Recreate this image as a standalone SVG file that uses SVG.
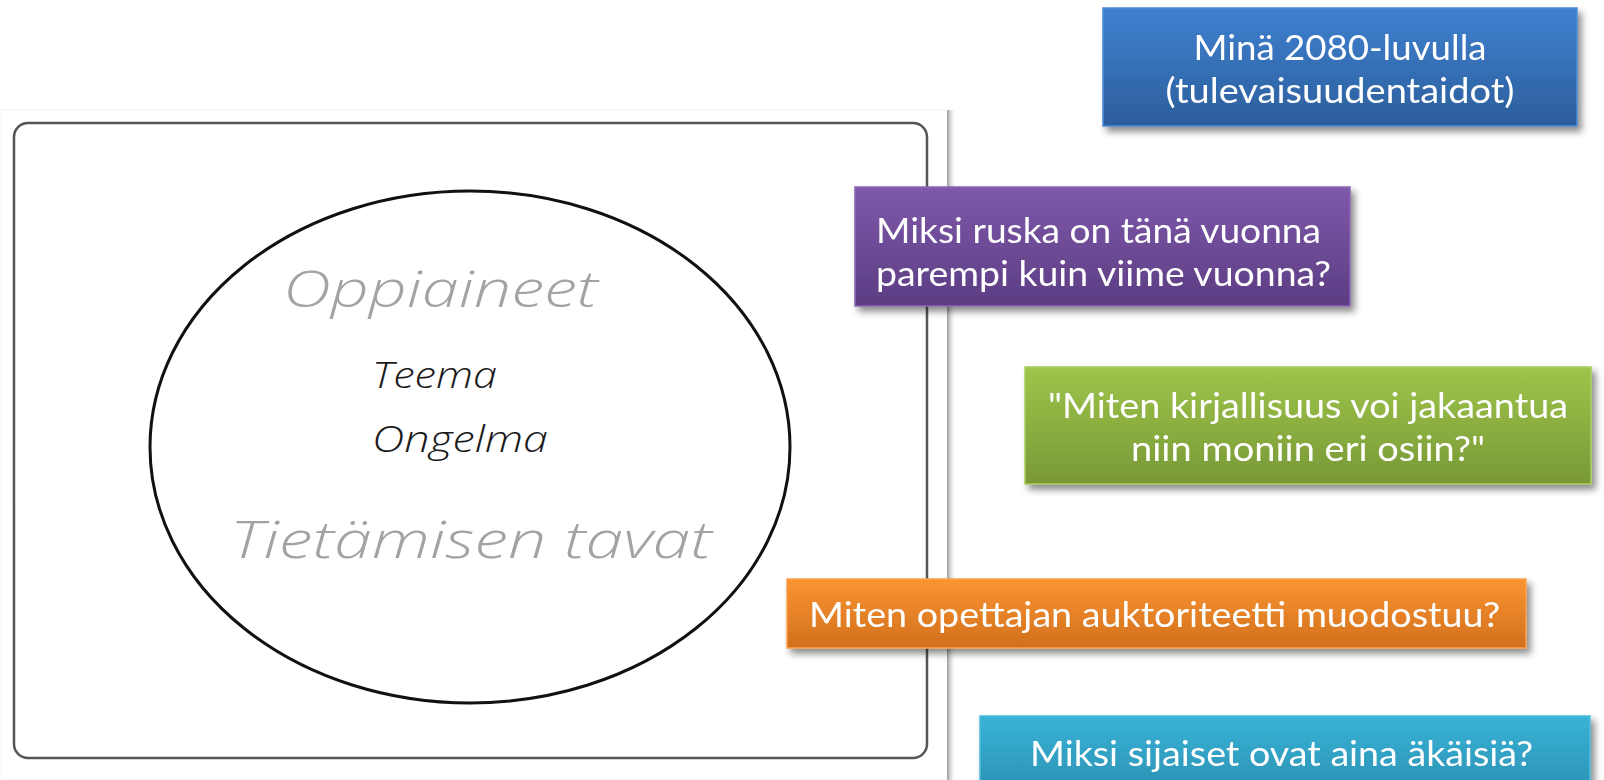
<svg xmlns="http://www.w3.org/2000/svg" width="1604" height="780" viewBox="0 0 1604 780">
<defs>
<style>
.box{stroke-width:1.5}
.t{font-family:Lato,"Open Sans","Liberation Sans",sans-serif;font-size:35px;fill:#ffffff}
.hw{font-family:"Open Sans","DejaVu Sans",sans-serif;font-style:italic;font-weight:300}
.gray{fill:#a3a3a3}
.dark{fill:#1a1a1a}
</style>
<linearGradient id="gBlue" x1="0" y1="0" x2="0" y2="1"><stop offset="0" stop-color="#3f81d0"/><stop offset="1" stop-color="#2c5e9b"/></linearGradient>
<linearGradient id="gPurple" x1="0" y1="0" x2="0" y2="1"><stop offset="0" stop-color="#7f59aa"/><stop offset="1" stop-color="#5c3d83"/></linearGradient>
<linearGradient id="gGreen" x1="0" y1="0" x2="0" y2="1"><stop offset="0" stop-color="#9fc54b"/><stop offset="1" stop-color="#789836"/></linearGradient>
<linearGradient id="gOrange" x1="0" y1="0" x2="0" y2="1"><stop offset="0" stop-color="#fa9532"/><stop offset="1" stop-color="#d26f1c"/></linearGradient>
<linearGradient id="gTeal" x1="0" y1="0" x2="0" y2="1"><stop offset="0" stop-color="#39b3d7"/><stop offset="1" stop-color="#2a8fb0"/></linearGradient>
<linearGradient id="gEdge" x1="0" y1="0" x2="1" y2="0"><stop offset="0" stop-color="#9a9a9a"/><stop offset="1" stop-color="#ffffff" stop-opacity="0"/></linearGradient>
<filter id="sh" x="-5%" y="-10%" width="115%" height="130%"><feDropShadow dx="4" dy="5" stdDeviation="3.5" flood-color="#000" flood-opacity="0.45"/></filter>
</defs>
<rect width="1604" height="780" fill="#ffffff"/>
<g id="picture">
<rect x="0" y="110" width="948" height="670" fill="#ffffff" stroke="#f2f2f2" stroke-width="1"/>
<rect x="947" y="110" width="9" height="670" fill="url(#gEdge)"/>
<rect x="14" y="123" width="913" height="635" rx="14" ry="14" fill="#ffffff" stroke="#555555" stroke-width="2.5"/>
<ellipse cx="470" cy="447" rx="320" ry="256" fill="none" stroke="#111111" stroke-width="3"/>
<text class="hw gray" x="283" y="307" font-size="50" textLength="315" lengthAdjust="spacingAndGlyphs">Oppiaineet</text>
<text class="hw dark" x="372" y="388" font-size="36" textLength="125" lengthAdjust="spacingAndGlyphs">Teema</text>
<text class="hw dark" x="372" y="452" font-size="36" textLength="176" lengthAdjust="spacingAndGlyphs">Ongelma</text>
<text class="hw gray" x="230" y="558" font-size="52" textLength="482" lengthAdjust="spacingAndGlyphs">Tietämisen tavat</text>
</g>
<g id="connectors"></g>
<g id="n-blue" filter="url(#sh)">
<rect class="box" x="1103" y="8" width="474" height="118" fill="url(#gBlue)" stroke="#4b8bd6"/>
<text class="t" x="1340" y="60" text-anchor="middle" textLength="293" lengthAdjust="spacingAndGlyphs">Minä 2080-luvulla</text>
<text class="t" x="1340" y="103" text-anchor="middle" textLength="349" lengthAdjust="spacingAndGlyphs">(tulevaisuudentaidot)</text>
</g>
<g id="n-purple" filter="url(#sh)">
<rect class="box" x="855" y="187" width="495" height="119" fill="url(#gPurple)" stroke="#8a66b4"/>
<text class="t" x="876" y="243" textLength="445" lengthAdjust="spacingAndGlyphs">Miksi ruska on tänä vuonna</text>
<text class="t" x="876" y="286" textLength="455" lengthAdjust="spacingAndGlyphs">parempi kuin viime vuonna?</text>
</g>
<g id="n-green" filter="url(#sh)">
<rect class="box" x="1025" y="367" width="566" height="117" fill="url(#gGreen)" stroke="#a9cc5c"/>
<text class="t" x="1308" y="418" text-anchor="middle" textLength="520" lengthAdjust="spacingAndGlyphs">"Miten kirjallisuus voi jakaantua</text>
<text class="t" x="1308" y="461" text-anchor="middle" textLength="354" lengthAdjust="spacingAndGlyphs">niin moniin eri osiin?"</text>
</g>
<g id="n-orange" filter="url(#sh)">
<rect class="box" x="787" y="579" width="739" height="69" fill="url(#gOrange)" stroke="#fba04a"/>
<text class="t" x="809" y="627" textLength="691" lengthAdjust="spacingAndGlyphs">Miten opettajan auktoriteetti muodostuu?</text>
</g>
<g id="n-teal" filter="url(#sh)">
<rect class="box" x="980" y="716" width="610" height="80" fill="url(#gTeal)" stroke="#4abddf"/>
<text class="t" x="1030" y="766" textLength="503" lengthAdjust="spacingAndGlyphs">Miksi sijaiset ovat aina äkäisiä?</text>
</g>
</svg>
